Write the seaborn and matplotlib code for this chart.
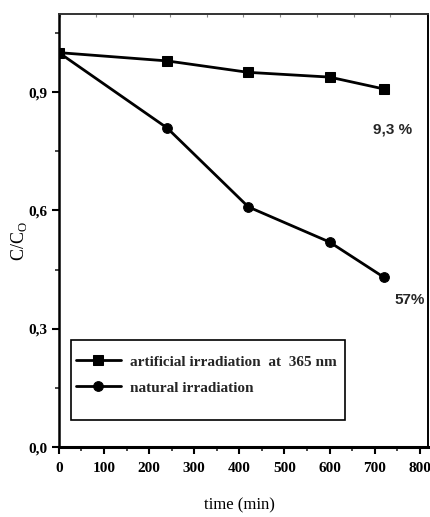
import matplotlib
matplotlib.use("Agg")
import matplotlib.pyplot as plt
import matplotlib.ticker as mticker
from matplotlib.patches import Rectangle
import seaborn as sns
import pandas as pd

# Photodegradation kinetics: C/C0 versus irradiation time
time_min = [0, 240, 420, 600, 720]
artificial = [1.0, 0.979, 0.950, 0.938, 0.908]
natural = [1.0, 0.809, 0.609, 0.520, 0.431]
series_names = ["artificial irradiation  at  365 nm", "natural irradiation"]
removal_labels = ["9,3 %", "57%"]

df = pd.concat([
    pd.DataFrame({"time": time_min, "ratio": artificial, "series": series_names[0]}),
    pd.DataFrame({"time": time_min, "ratio": natural, "series": series_names[1]}),
])

sns.set_theme(style="ticks")
plt.rcParams["font.family"] = ["Liberation Serif", "DejaVu Serif"]

fig = plt.figure(figsize=(4.3, 5.17), dpi=100)
ax = fig.add_axes([0.137, 0.135, 0.858, 0.838])

sns.lineplot(data=df, x="time", y="ratio", hue="series", style="series",
             markers={series_names[0]: "s", series_names[1]: "o"},
             dashes=False, palette=["black", "black"], linewidth=2.0,
             markersize=7, markeredgecolor="black", ax=ax)

ax.set_xlim(0, 818)
ax.set_ylim(0, 1.098)
ax.xaxis.set_major_locator(mticker.MultipleLocator(100))
ax.xaxis.set_minor_locator(mticker.MultipleLocator(50))
ax.yaxis.set_major_locator(mticker.MultipleLocator(0.3))
ax.yaxis.set_minor_locator(mticker.MultipleLocator(0.15))
ax.yaxis.set_major_formatter(mticker.FuncFormatter(lambda v, p: f"{v:.1f}".replace(".", ",")))

ax.tick_params(axis="both", which="major", direction="out", length=5, width=1.5,
               labelsize=11, colors="black")
ax.tick_params(axis="both", which="minor", direction="out", length=3, width=1.2)
ax.tick_params(axis="x", which="major", pad=6)
for lab in ax.get_xticklabels() + ax.get_yticklabels():
    lab.set_fontweight("bold")

# faint ticks along the top frame
top = ax.secondary_xaxis("top")
top.xaxis.set_major_locator(mticker.MultipleLocator(81.5, offset=1.5))
top.tick_params(axis="x", direction="in", length=2, width=0.8, colors="#888888",
                labeltop=False)
top.spines["top"].set_visible(False)

for s in ax.spines.values():
    s.set_color("black")
    s.set_linewidth(1.4)
ax.spines["bottom"].set_linewidth(2.2)
ax.spines["left"].set_linewidth(1.8)
ax.spines["top"].set_color("#333333")

ax.set_xlabel("time (min)", fontsize=12, color="black")
ax.set_ylabel(r"C/C$_\mathregular{O}$", fontsize=13, color="black")
ax.xaxis.set_label_coords(0.49, -0.115)
ax.yaxis.set_label_coords(-0.08, 0.475)

ax.text(696, 0.804, removal_labels[0], family="Liberation Sans", fontweight="bold",
        fontsize=11, va="center", ha="left")
ax.text(745, 0.373, removal_labels[1], family="Liberation Sans", fontweight="bold",
        fontsize=11, va="center", ha="left")

# legend frame drawn separately so its padding can be uneven
ax.add_patch(Rectangle((0.0325, 0.062), 0.7425, 0.185, transform=ax.transAxes,
                       fill=False, edgecolor="black", linewidth=1.2, zorder=5))
leg = ax.legend(loc="upper left", bbox_to_anchor=(0.045, 0.213), frameon=False,
                handlelength=2.95, handletextpad=0.6, borderpad=0.0,
                borderaxespad=0.0, labelspacing=0.8,
                prop={"family": "Liberation Serif", "weight": "bold", "size": 11})

fig.savefig("out.png", dpi=100)
